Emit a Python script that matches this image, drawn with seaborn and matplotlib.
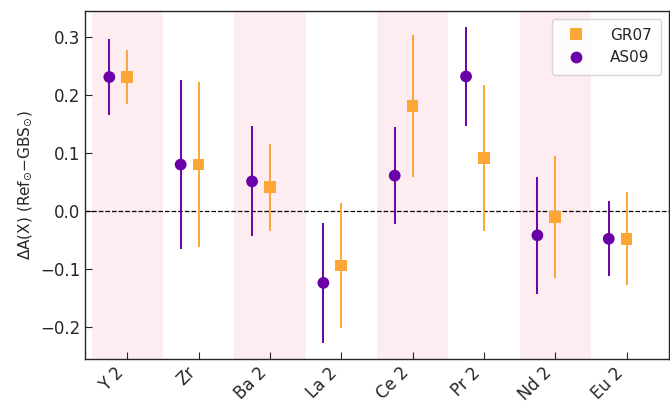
import numpy as np
import pandas as pd
import matplotlib
matplotlib.use("Agg")
import matplotlib.pyplot as plt
import seaborn as sns

# element labels along x
elements = ["Y 2", "Zr", "Ba 2", "La 2", "Ce 2", "Pr 2", "Nd 2", "Eu 2"]

# AS09 reference
as09_val = [0.231, 0.080, 0.051, -0.124, 0.061, 0.232, -0.042, -0.048]
as09_err = [0.066, 0.146, 0.095, 0.103, 0.084, 0.086, 0.101, 0.065]

# GR07 reference
gr07_val = [0.231, 0.080, 0.041, -0.094, 0.181, 0.091, -0.010, -0.048]
gr07_err = [0.047, 0.142, 0.075, 0.108, 0.123, 0.126, 0.105, 0.080]

purple = "#6a00a8"
orange = "#fca636"

sns.set_style("ticks")
plt.rcParams["font.family"] = ["DejaVu Sans"]

idx = np.arange(len(elements))
df = pd.concat([
    pd.DataFrame({"x": idx - 0.25, "val": as09_val, "err": as09_err, "ref": "AS09"}),
    pd.DataFrame({"x": idx.astype(float), "val": gr07_val, "err": gr07_err, "ref": "GR07"}),
], ignore_index=True)

fig = plt.figure(figsize=(6.7, 4.05), dpi=100)
ax = fig.add_axes([0.127, 0.114, 0.871, 0.859])

# alternating shaded bands
for i in idx[::2]:
    ax.axvspan(i - 0.5, i + 0.5, color="#fdecf0", lw=0, zorder=0)

ax.axhline(0, color="black", ls="--", lw=0.9, zorder=1)

# error bars
for ref, col in [("AS09", purple), ("GR07", orange)]:
    sub = df[df["ref"] == ref]
    ax.errorbar(sub["x"], sub["val"], yerr=sub["err"], fmt="none",
                ecolor=col, elinewidth=1.4, capsize=0, zorder=2)

sns.scatterplot(data=df, x="x", y="val", hue="ref", style="ref",
                hue_order=["GR07", "AS09"],
                palette={"GR07": orange, "AS09": purple},
                markers={"GR07": "s", "AS09": "o"},
                s=72, linewidth=0, ax=ax, zorder=3)

ax.set_xlim(-0.59, 7.59)
ax.set_ylim(-0.255, 0.345)
ax.set_xticks(idx)
ax.set_xticklabels(elements, rotation=45, ha="right")
ax.set_yticks([-0.2, -0.1, 0.0, 0.1, 0.2, 0.3])
ax.tick_params(direction="in", labelsize=12, length=5)
ax.set_xlabel("")
ax.set_ylabel(r"$\Delta$A(X) (Ref$_{\odot}$$-$GBS$_{\odot}$)", fontsize=11)

leg = ax.legend(loc="upper right", fontsize=11, markerscale=1.0,
                handletextpad=1.2, borderpad=0.6)
leg.set_title(None)

for sp in ax.spines.values():
    sp.set_linewidth(1.0)

fig.savefig("out.png", dpi=100)
